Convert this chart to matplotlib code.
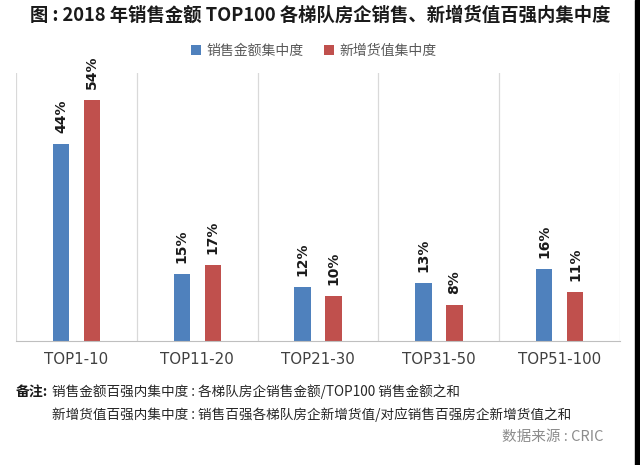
import numpy as np
import matplotlib.pyplot as plt
from matplotlib.patches import Rectangle

plt.rcParams['font.family'] = ['Noto Sans CJK SC', 'DejaVu Sans']

categories = ["TOP1-10", "TOP11-20", "TOP21-30", "TOP31-50", "TOP51-100"]
sales_conc = [44, 15, 12, 13, 16]
newval_conc = [54, 17, 10, 8, 11]
series_names = ["销售金额集中度", "新增货值集中度"]

blue = "#4F81BD"
red = "#C0504D"

fig = plt.figure(figsize=(6.4, 4.65), dpi=100)
ax = fig.add_axes([0.025, 0.267, 0.944, 0.576])

x = np.arange(len(categories))
w = 0.135
off = 0.128
b1 = ax.bar(x - off, sales_conc, w, color=blue, label=series_names[0])
b2 = ax.bar(x + off, newval_conc, w, color=red, label=series_names[1])

for bars, vals in [(b1, sales_conc), (b2, newval_conc)]:
    for r, v in zip(bars, vals):
        ax.annotate(f"{v}%", (r.get_x() + r.get_width() / 2, r.get_height()),
                    xytext=(0, 8), textcoords="offset points", rotation=90,
                    ha="center", va="bottom", fontsize=10, fontweight="bold",
                    family="DejaVu Sans", color="#1a1a1a")

ax.set_xlim(-0.5, len(categories) - 0.5)
ax.set_ylim(0, 60)
for s in np.arange(-0.5, len(categories), 1):
    ax.axvline(s, color="#d9d9d9", lw=0.9, zorder=0)
for sp in ["left", "right", "top"]:
    ax.spines[sp].set_visible(False)
ax.spines["bottom"].set_color("#bfbfbf")
ax.set_yticks([])
ax.set_xticks(x)
ax.set_xticklabels(categories, fontsize=10.8, color="#404040", family="DejaVu Sans")
ax.tick_params(axis="x", length=0, pad=8)

fig.text(0.5, 0.968, "图 : 2018 年销售金额 TOP100 各梯队房企销售、新增货值百强内集中度",
         ha="center", va="center", fontsize=13.2, fontweight="bold", color="#1a1a1a")
fig.legend(loc="center", bbox_to_anchor=(0.49, 0.89), ncol=2, frameon=False,
           fontsize=10, handlelength=0.7, handleheight=0.7, handletextpad=0.4,
           columnspacing=1.5, labelcolor="#595959")

fig.text(0.024, 0.157, "备注:", fontsize=10, fontweight="bold", color="#1a1a1a", va="center")
fig.text(0.081, 0.157, "销售金额百强内集中度 : 各梯队房企销售金额/TOP100 销售金额之和",
         fontsize=9.8, color="#262626", va="center")
fig.text(0.081, 0.108, "新增货值百强内集中度 : 销售百强各梯队房企新增货值/对应销售百强房企新增货值之和",
         fontsize=9.8, color="#262626", va="center")
fig.text(0.942, 0.06, "数据来源 : CRIC", fontsize=10.5, color="#8c8c8c", va="center", ha="right")

fig.patches.append(Rectangle((0.992, 0), 0.008, 1, transform=fig.transFigure,
                             color="black", figure=fig))

fig.savefig("out.png", dpi=100)
